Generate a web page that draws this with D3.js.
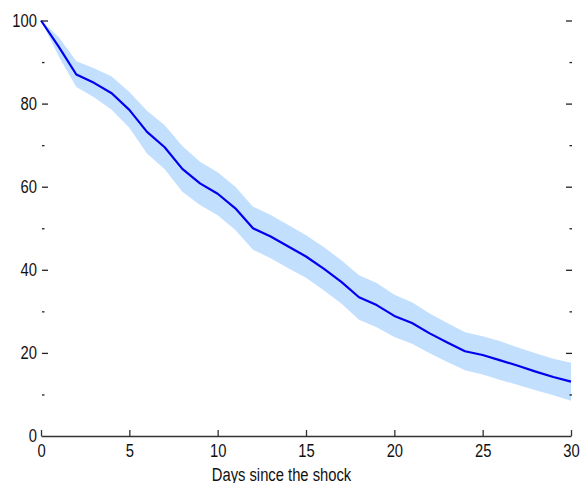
<!DOCTYPE html>
<html>
<head>
<meta charset="utf-8">
<script src="https://cdn.jsdelivr.net/npm/d3@7"></script>
<style>
  body { margin: 0; background: #fff; }
  text { font-family: "Liberation Sans Narrow", "Arial Narrow", "Liberation Sans", sans-serif; font-size: 18px; fill: #111; }
</style>
</head>
<body>
<svg id="chart" width="582" height="483"></svg>
<script>
const width = 582,
    height = 483

// days since the shock
const days = d3.range(0, 31)
// central estimate
const mean = [100, 93.7, 87, 85, 82.5, 78.5, 73.2, 69.5, 64.3, 60.8, 58.3, 54.8, 50, 48, 45.6, 43.2,
    40.3, 37.1, 33.4, 31.5, 28.9, 27.2, 24.7, 22.5, 20.4, 19.5, 18.2, 16.9, 15.5, 14.2, 13.1]
// band edges
const upper = [100, 96, 90.2, 88.5, 86.5, 82.8, 78.3, 74.8, 69.8, 66, 63.5, 60, 55.2, 53.2, 50.8, 48.3,
    45.5, 42.3, 38.7, 36.8, 34, 32.2, 29.5, 27.2, 25, 24, 22.8, 21.3, 19.9, 18.6, 17.6]
const lower = [100, 91.4, 84, 81.5, 78.5, 74.2, 68, 64.2, 58.8, 55.6, 53.1, 49.6, 44.8, 42.8, 40.4, 38.1,
    35.1, 31.9, 28, 26.2, 23.8, 22.2, 19.9, 17.8, 15.8, 14.8, 13.5, 12.3, 11, 9.8, 8.5]

const xTicks = [0, 5, 10, 15, 20, 25, 30]
const yTicks = [0, 10, 20, 30, 40, 50, 60, 70, 80, 90, 100]
const xTitle = "Days since the shock"

const data = days.map((d, i) => ({ day: d, mean: mean[i], hi: upper[i], lo: lower[i] }))

const svg = d3.select("#chart")

const x = d3.scaleLinear().domain([0, 30]).range([41, 571])
const y = d3.scaleLinear().domain([0, 100]).range([436, 20.5])

// shaded band
svg.append("path")
    .datum(data)
    .attr("fill", "#c2dffd")
    .attr("d", d3.area().x(d => x(d.day)).y0(d => y(d.lo)).y1(d => y(d.hi)))

// central line
svg.append("path")
    .datum(data)
    .attr("fill", "none")
    .attr("stroke", "#0000f0")
    .attr("stroke-width", 2.2)
    .attr("stroke-linejoin", "round")
    .attr("d", d3.line().x(d => x(d.day)).y(d => y(d.mean)))

// x axis, ticks pointing up
const gx = svg.append("g")
    .attr("transform", `translate(0,${y(0)})`)
    .call(d3.axisBottom(x).tickValues(xTicks).tickSizeInner(-6).tickSizeOuter(0).tickPadding(8))
gx.select(".domain").attr("stroke", "#333").attr("stroke-width", 1.6)
gx.selectAll(".tick line").attr("stroke", "#333").attr("stroke-width", 1.3)
gx.selectAll("text").attr("font-size", null).attr("font-family", null)

// left axis, no spine
const gy = svg.append("g")
    .attr("transform", `translate(${x(0) + 1},0)`)
    .call(d3.axisLeft(y).tickValues(yTicks).tickSize(-6).tickPadding(5)
        .tickFormat(d => d % 20 === 0 ? d : ""))
gy.select(".domain").remove()
gy.selectAll(".tick line")
    .attr("x2", d => d % 20 === 0 ? 6 : 2.5)
    .attr("stroke", "#222").attr("stroke-width", 1.3)
gy.selectAll("text").attr("font-size", null).attr("font-family", null)
gy.selectAll(".tick").filter(d => d === 0).select("line").remove()

// right axis ticks only
const gr = svg.append("g")
    .attr("transform", `translate(${x(30) + 1},0)`)
    .call(d3.axisRight(y).tickValues(yTicks).tickSize(-6).tickFormat(""))
gr.select(".domain").remove()
gr.selectAll(".tick line")
    .attr("x2", d => d % 20 === 0 ? -6 : -2.5)
    .attr("stroke", "#222").attr("stroke-width", 1.3)
gr.selectAll(".tick").filter(d => d === 0).remove()

svg.append("text")
    .attr("x", 281.5)
    .attr("y", 480.5)
    .attr("text-anchor", "middle")
    .text(xTitle)

// narrow the glyphs (no condensed face installed)
svg.selectAll("text").each(function() {
    const len = this.getComputedTextLength()
    if (len > 0) {
        d3.select(this)
            .attr("textLength", len * 0.82)
            .attr("lengthAdjust", "spacingAndGlyphs")
    }
})
</script>
</body>
</html>
